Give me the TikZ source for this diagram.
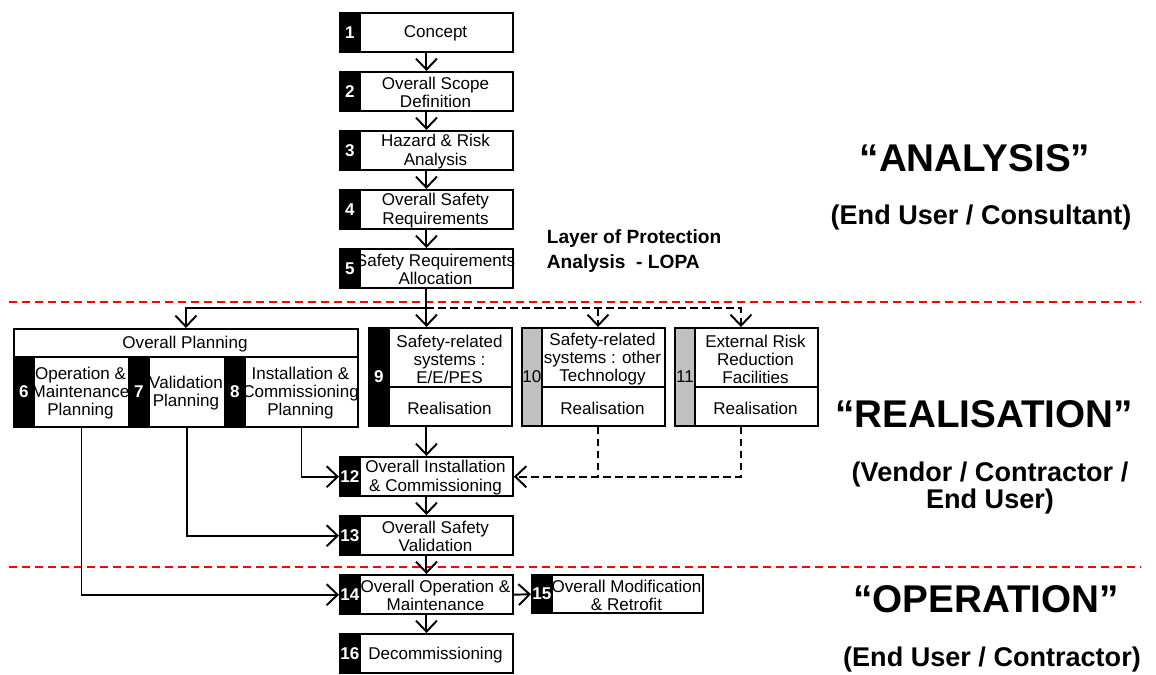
\documentclass[tikz,border=0pt]{standalone}
\usepackage{fontspec}
\setmainfont{Liberation Sans}
\usepackage{tikz}
\usetikzlibrary{arrows.meta,calc}
\definecolor{cTab}{RGB}{192,192,192}
\definecolor{cSep}{RGB}{255,0,0}

\begin{document}
\begin{tikzpicture}[x=0.02cm,y=-0.02cm,line width=1.1pt,
   stepbox/.style={draw,fill=white,inner sep=0pt,anchor=north west},
   tab/.style={draw,fill=black,text=white,inner sep=0pt,minimum width=0.4cm,anchor=north west,
     font=\fontsize{9.7}{10.3}\selectfont\bfseries},
   greytab/.style={tab,fill=cTab,text=black,font=\fontsize{9.7}{10.3}\selectfont},
   txt/.style={align=center,inner sep=0pt,yshift=-1.2pt,font=\fontsize{9.7}{10.3}\selectfont},
   arr/.style={-{Straight Barb[length=2.2mm,width=4.2mm]}},
   dsh/.style={dash pattern=on 1.5mm off 0.9mm},
   redsep/.style={draw=cSep,line width=1.3pt,dash pattern=on 1.6mm off 1mm},
   big/.style={font=\fontsize{22}{24}\selectfont\bfseries},
   who/.style={align=center,font=\fontsize{15.4}{15.5}\selectfont\bfseries}]
 \useasboundingbox (0,0) rectangle (1156,675);
 % phase borders
 \draw[redsep] (9,302) -- (1141,302);
 \draw[redsep] (9,567) -- (1141,567);
 % main column
 \foreach \n/\y/\lbl in {1/12/{Concept},2/71/{Overall Scope\\Definition},
     3/130/{Hazard \& Risk\\Analysis},4/189/{Overall Safety\\Requirements},
     5/248/{Safety Requirements\\Allocation},12/456/{Overall Installation\\\& Commissioning},
     13/515/{Overall Safety\\Validation},14/574/{Overall Operation \&\\Maintenance},
     16/633/{Decommissioning}} {
   \node[stepbox,minimum width=3.46cm,minimum height=0.79cm] (s\n) at (339,\y) {};
   \node[txt] at (435.5,\y+19.5) {\lbl};
   \node[tab,minimum height=0.79cm] (n\n) at (339,\y) {\n};
 }
 \node[stepbox,minimum width=3.42cm,minimum height=0.77cm] (s15) at (531,574) {};
 \node[txt] at (626.5,593) {Overall Modification\\\& Retrofit};
 \node[tab,minimum height=0.77cm] (n15) at (531,574) {15};
 % overall planning
 \node[stepbox,minimum width=6.88cm,minimum height=0.56cm] (op) at (13,328) {};
 \node[txt] at (185,342) {Overall Planning};
 \foreach \n/\xl/\w/\lbl in {6/13/95/{Operation \&\\Maintenance\\Planning},
     7/128/76/{Validation\\Planning},8/224/113/{Installation \&\\Commissioning\\Planning}} {
   \node[stepbox,minimum width=\w*0.02cm,minimum height=1.4cm] (w\n) at (\xl+20,356) {};
   \node[txt] at (\xl+20+\w/2,391) {\lbl};
   \node[tab,minimum height=1.4cm] (n\n) at (\xl,356) {\n};
 }
 % realisation boxes
 \foreach \n/\xl/\st/\lbl in {9/368/tab/{Safety-related\\systems :\\E/E/PES},
     10/521/greytab/{Safety-related\\systems : other\\Technology},
     11/674/greytab/{External Risk\\Reduction\\Facilities}} {
   \node[stepbox,minimum width=2.86cm,minimum height=1.96cm] (f\n) at (\xl,327) {};
   \draw (\xl+20,387) -- (\xl+143,387);
   \node[txt] at (\xl+81.5,357) {\lbl};
   \node[txt] at (\xl+81.5,406) {Realisation};
   \node[\st,minimum height=1.96cm] (n\n) at (\xl,327) {\n};
 }
 % connectors
 \foreach \a/\b in {1/2,2/3,3/4,4/5,12/13,13/14,14/16} \draw[arr] (s\a.south) -- (s\b.north);
 \coordinate (j) at ($(s5.south)+(0,19)$);
 \coordinate (i10) at ([xshift=0.09cm]f10.north);
 \coordinate (i11) at ([xshift=-0.11cm]f11.north);
 \coordinate (o10) at ([xshift=0.09cm]f10.south);
 \coordinate (o11) at ([xshift=-0.11cm]f11.south);
 \draw[dsh,arr] (j) -| (i11);
 \draw[dsh,arr] (j -| i10) -- (i10);
 \draw[arr] (s5.south) -- (j) -| (op.north);
 \draw[arr] (j) -- (j |- f9.north);
 \draw[arr] (s12.north |- f9.south) -- (s12.north);
 \draw[dsh] (o10) -- (o10 |- s12.east);
 \draw[dsh,arr] (o11) |- (s12.east);
 \draw[arr] (w8.south) |- (s12.west);
 \draw[arr] (w7.south) |- (s13.west);
 \draw[arr] (w6.south) |- (s14.west);
 \draw[arr] (s14.east) -- (s15.west);
 % phase labels
 \node[anchor=west,align=left,font=\fontsize{10.9}{14.2}\selectfont\bfseries] (lopa) at (540,251)
   {Layer of Protection\\Analysis~ - LOPA};
 \node[big] (tAna) at (975,158) {“ANALYSIS”};
 \node[who] (wAna) at (981,218) {(End User / Consultant)};
 \node[big] (tRea) at (984,414) {“REALISATION”};
 \node[who] (wRea) at (990,488) {(Vendor / Contractor /\\End User)};
 \node[big] (tOpe) at (986,599) {“OPERATION”};
 \node[who] (wOpe) at (992,660) {(End User / Contractor)};
\end{tikzpicture}
\end{document}
